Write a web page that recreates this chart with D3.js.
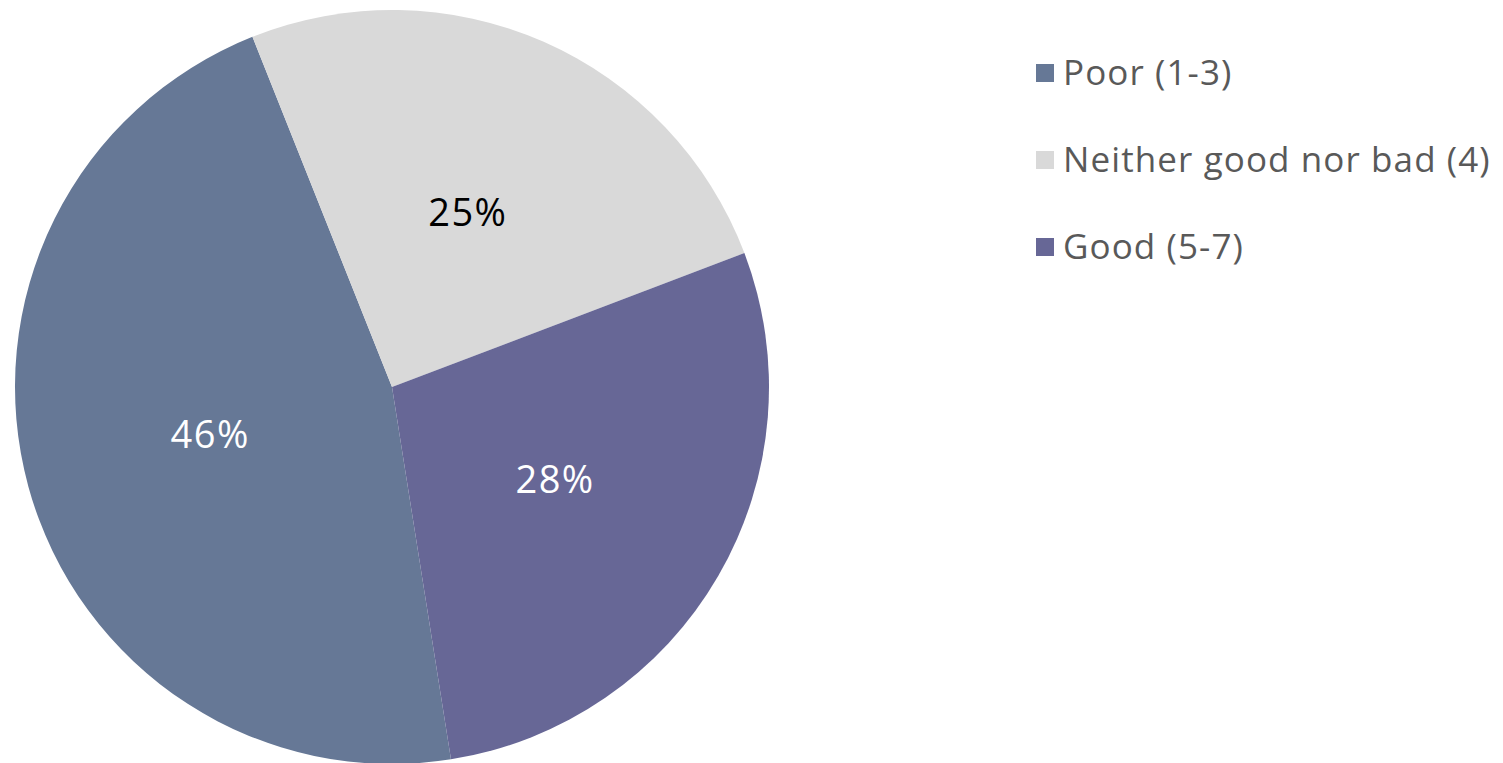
<!DOCTYPE html>
<html>
<head>
<meta charset="utf-8">
<script src="https://cdn.jsdelivr.net/npm/d3@7"></script>
<style>
  html, body { margin: 0; padding: 0; background: #fff; }
  svg { display: block; font-family: 'Open Sans', 'Noto Sans', sans-serif; }
</style>
</head>
<body>
<div id="chart"></div>
<script>
const categories = ['Poor (1-3)', 'Neither good nor bad (4)', 'Good (5-7)'];
const values = [46, 25, 28];
const labels = ['46%', '25%', '28%'];
const colors = ['#667896', '#d9d9d9', '#676796'];
const labelColors = ['#ffffff', '#000000', '#ffffff'];

const width = 1503, height = 763;
const cx = 392, cy = 387, radius = 377;

const svg = d3.select('#chart')
  .append('svg')
    .attr('width', width)
    .attr('height', height);

const data = categories.map((c, i) => ({ name: c, value: values[i], label: labels[i], i }));

// first slice starts a bit past 6 o'clock, clockwise
const start = 171 * Math.PI / 180;
const pie = d3.pie()
  .value(d => d.value)
  .sort(null)
  .startAngle(start)
  .endAngle(start + Math.PI * 2);

const arc = d3.arc().innerRadius(0).outerRadius(radius);
const labelArc = d3.arc().innerRadius(radius * 0.5).outerRadius(radius * 0.5);

const g = svg.append('g')
  .attr('transform', `translate(${cx},${cy})`);

const arcs = pie(data);

g.selectAll('path')
  .data(arcs)
  .enter().append('path')
    .attr('d', arc)
    .attr('fill', d => colors[d.data.i]);

g.selectAll('.pct')
  .data(arcs)
  .enter().append('text')
    .attr('class', 'pct')
    .attr('transform', d => `translate(${labelArc.centroid(d)})`)
    .attr('text-anchor', 'middle')
    .attr('dy', '0.3em')
    .style('font-size', '38px')
    .style('letter-spacing', '1.5px')
    .style('font-weight', 500)
    .style('fill', d => labelColors[d.data.i])
    .text(d => d.data.label);

// Legend
const legend = svg.append('g')
  .attr('transform', 'translate(1036,73)');

const item = legend.selectAll('.item')
  .data(data)
  .enter().append('g')
    .attr('class', 'item')
    .attr('transform', (d, i) => `translate(0,${i * 87})`);

item.append('rect')
  .attr('x', 0)
  .attr('y', -9)
  .attr('width', 18)
  .attr('height', 18)
  .attr('fill', d => colors[d.i]);

item.append('text')
  .attr('x', 27)
  .attr('dy', '0.34em')
  .style('font-size', '35px')
  .style('letter-spacing', '1.1px')
  .style('fill', '#595959')
  .text(d => d.name);
</script>
</body>
</html>
